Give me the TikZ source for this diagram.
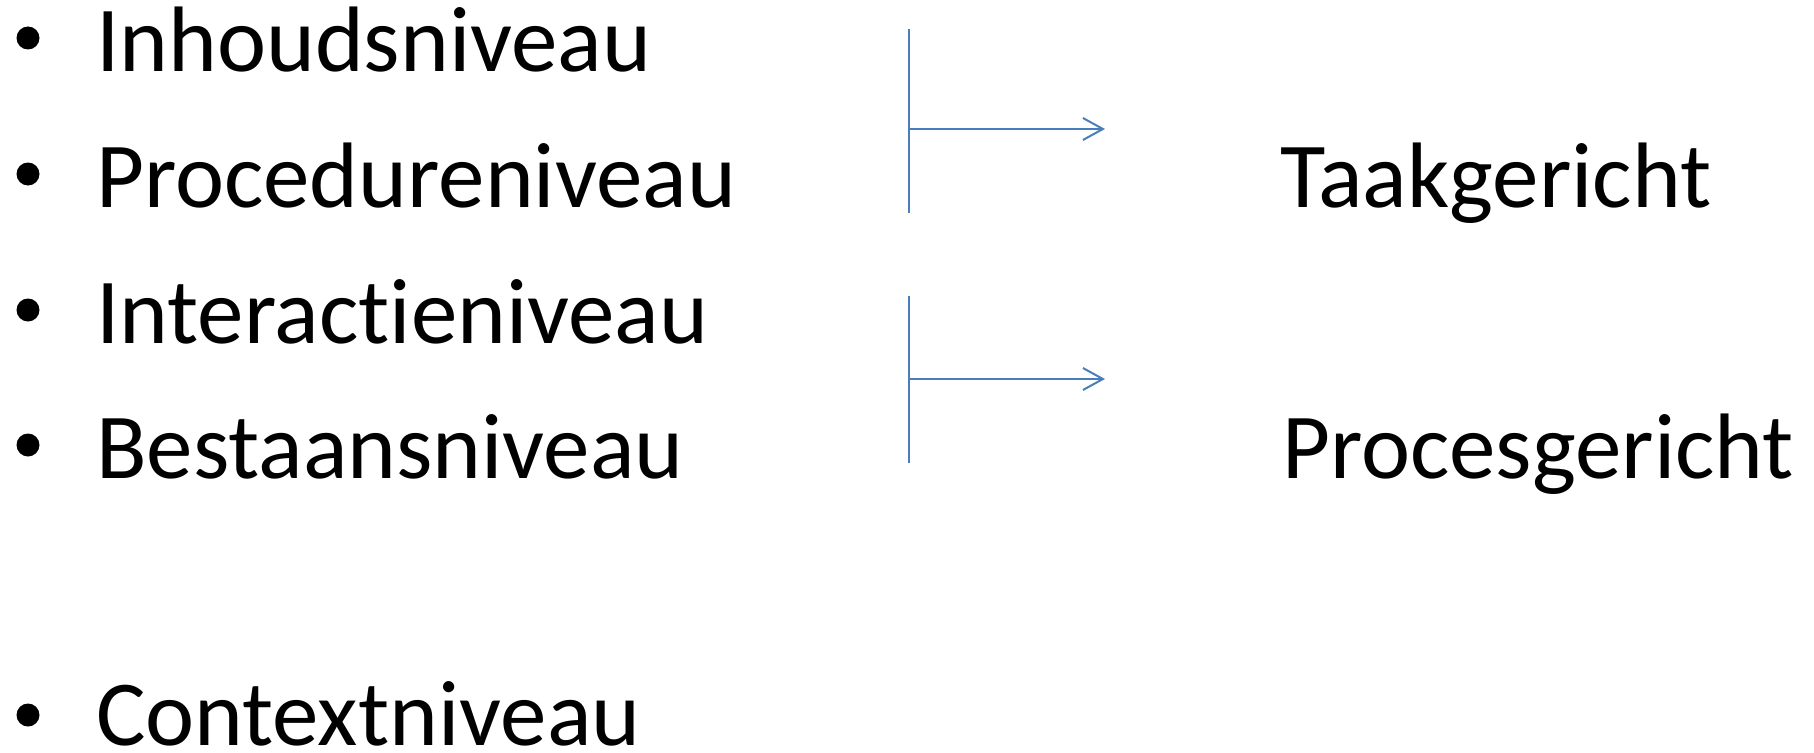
\documentclass[tikz,border=0pt]{standalone}
\usepackage{fontspec}
\setmainfont{Carlito}[Ligatures=NoCommon]
\usetikzlibrary{arrows.meta}

\definecolor{lijnblauw}{HTML}{4A7EBB}
\newcommand{\grootfont}{\fontsize{93}{112}\selectfont}

\tikzset{
  punt/.style={circle, fill=black, inner sep=0pt, minimum size=23pt},
  niveau/.style={anchor=base west, inner sep=0pt, font=\grootfont},
  haak/.style={draw=lijnblauw, line width=2pt},
  pijl/.style={haak, -{Straight Barb[length=20pt,width=22pt]}}
}

\begin{document}
\begin{tikzpicture}[x=1pt,y=-1pt]
            \useasboundingbox (0,0) rectangle (1814,752);

            \node[punt] (p1) at (28,38) {};
            \node[punt] (p2) at (28,174) {};
            \node[punt] (p3) at (28,310) {};
            \node[punt] (p4) at (28,445) {};
            \node[punt] (p5) at (28,715) {};

            \node[niveau] (inhoud) at (96,71) {Inhoudsniveau};
            \node[niveau] (procedure) at (96,207) {Procedureniveau};
            \node[niveau] (interactie) at (96,343) {Interactieniveau};
            \node[niveau] (bestaan) at (96,478) {Bestaansniveau};
            \node[niveau] (context) at (96,745) {Contextniveau};

            \node[niveau] (taak) at (1280,207) {Taakgericht};
            \node[niveau] (proces) at (1282,478) {Procesgericht};

            \coordinate (h1boven) at (909,29);
            \coordinate (h1onder) at (909,213);
            \coordinate (h1midden) at (909,129);
            \coordinate (h1eind) at (1105,129);
            \coordinate (h2boven) at (909,296);
            \coordinate (h2onder) at (909,463);
            \coordinate (h2midden) at (909,379);
            \coordinate (h2eind) at (1105,379);

            \draw[haak] (h1boven) -- (h1onder);
            \draw[pijl] (h1midden) -- (h1eind);
            \draw[haak] (h2boven) -- (h2onder);
            \draw[pijl] (h2midden) -- (h2eind);
        \end{tikzpicture}
\end{document}
